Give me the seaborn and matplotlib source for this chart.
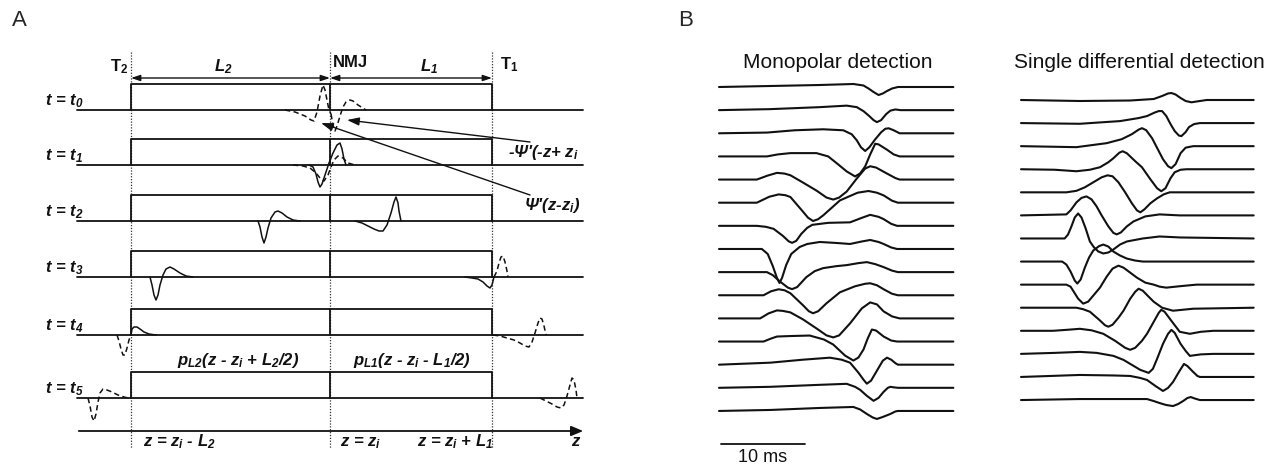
import numpy as np
import matplotlib
matplotlib.use("Agg")
import matplotlib.pyplot as plt
import seaborn as sns

# ---------------- data: panel A (schematic, z in image units) ----------------
row_names = ["0", "1", "2", "3", "4", "5"]
row_baseline = [110, 165, 221, 277, 335, 398]
pulse_height = 26
z_T2, z_NMJ, z_T1 = 131, 330, 492
z_start, z_end = 77, 583
z_axis_y = 431

# waveforms (z, amplitude above baseline)
t0_psi_z = [285, 295, 305, 311, 314, 317, 320, 323, 325, 327, 329, 331]
t0_psi_a = [0, -2, -6, -10, -11, -2, 14, 25, 20, 10, 0, -4]
t0_mpsi_z = [331, 333, 335, 337, 340, 343, 346, 350, 353, 358, 366]
t0_mpsi_a = [-4, -15, -21, -16, -6, 3, 8, 10, 9, 5, 0]
t1_sol_z = [309, 313, 316, 318, 320, 322, 325, 329, 333, 337, 340, 342, 344, 346]
t1_sol_a = [0, -2, -9, -17, -22, -19, -10, 2, 12, 20, 22, 16, 6, 0]
t1_dash_z = [293, 303, 310, 316, 320, 324, 328, 331, 334, 338, 343, 348, 355]
t1_dash_a = [0, -1, -3, -8, -13, -16, -10, -2, 5, 9, 7, 2, 0]
t2_left_z = [258, 260, 262, 264, 266, 268, 271, 275, 278, 282, 287, 293, 300]
t2_left_a = [0, -6, -16, -22, -16, -7, 3, 9, 10, 8, 4, 1, 0]
t2_right_z = [355, 362, 368, 374, 379, 383, 387, 391, 394, 396, 398, 399, 401]
t2_right_a = [0, -2, -5, -8, -10, -10, -4, 8, 19, 24, 18, 10, 0]
t3_left_z = [150, 152, 154, 156, 158, 160, 163, 166, 170, 174, 180, 186, 193]
t3_left_a = [0, -8, -18, -23, -18, -8, 2, 8, 10, 8, 4, 1, 0]
t3_right_z = [465, 472, 478, 483, 487, 490, 492, 494]
t3_right_a = [0, -1, -2, -5, -9, -11, -8, 0]
t3_out_z = [494, 497, 499, 501, 503, 505, 507, 508]
t3_out_a = [0, 6, 14, 20, 21, 15, 6, 0]
t4_left_z = [131, 132, 134, 137, 140, 144, 149, 156]
t4_left_a = [0, 6, 8, 8, 6, 3, 1, 0]
t4_out_left_z = [117, 119, 121, 123, 125, 127, 129, 131]
t4_out_left_a = [0, -6, -14, -20, -20, -13, -5, 0]
t4_out_right_z = [493, 500, 507, 514, 520, 525, 529, 532, 535, 538, 540, 542, 544, 546]
t4_out_right_a = [0, -1, -3, -5, -8, -11, -12, -7, 2, 12, 17, 16, 9, 0]
t5_out_left_z = [88, 90, 92, 94, 96, 98, 100, 103, 107, 112, 118, 124, 128]
t5_out_left_a = [0, -8, -19, -23, -16, -4, 5, 9, 8, 6, 3, 1, 0]
t5_out_right_z = [540, 546, 552, 557, 561, 564, 567, 570, 572, 574, 576, 577]
t5_out_right_a = [0, -3, -6, -9, -10, -7, 2, 13, 20, 18, 8, 0]

# ---------------- data: panel B (time in ms, amplitude in a.u.) ----------------
M00_t = [0, 6.1, 12, 16.0, 17.2, 17.8, 18.4, 19.0, 19.5, 20.0, 20.6, 21.3, 27.9]
M00_a = [0, 1, 2, 3, 1.5, -1.5, -5, -8, -6.5, -4, -1.5, 0, 0]
M01_t = [0, 6.1, 12, 15.2, 16.4, 17.2, 17.9, 18.4, 18.8, 19.3, 19.9, 20.4, 21.0, 21.6, 27.9]
M01_a = [0, 1, 3, 4.5, 3, -1, -6, -10, -12, -10, -4, -0.5, 0.7, 0, 0]
M02_t = [0, 5.7, 9, 12.4, 14.8, 15.8, 16.4, 16.9, 17.4, 17.9, 18.6, 19.3, 19.8, 20.2, 20.8, 21.5, 27.9]
M02_a = [0, 0.7, 3, 4, 3, -1, -7, -14, -17.7, -14, -6, 1, 4.5, 5, 3, 0, 0]
M03_t = [0, 5.7, 7, 8.5, 11.6, 13, 14.0, 15.2, 16.2, 16.8, 17.4, 18.0, 18.6, 19.0, 20.0, 20.8, 21.5, 27.9]
M03_a = [0, 0, 2, 3.3, 3.3, 0, -6.7, -15, -20, -17, -10, 2, 12.7, 12, 6.7, 2, 0, 0]
M04_t = [0, 4.5, 5.8, 6.9, 7.8, 8.5, 10, 11.6, 12.8, 13.6, 14.3, 15.2, 16.4, 17.4, 18.0, 18.7, 20.0, 21.0, 21.5, 27.9]
M04_a = [0, 0, 4, 6.7, 6, 4.3, -3, -11, -18, -20, -18, -12, 1, 11, 13.3, 12, 6, 1.5, 0, 0]
M05_t = [0, 4.5, 6, 7.1, 7.9, 8.5, 9.9, 10.6, 11.2, 11.8, 12.4, 14.4, 16.5, 17.8, 18.8, 19.6, 20.6, 21.3, 27.9]
M05_a = [0, 0, 6, 8.3, 7.5, 5.7, -8, -15, -18.3, -16.5, -12.7, 2.3, 10, 11.7, 10, 7.3, 2, 0, 0]
M06_t = [0, 4.5, 5.6, 6.5, 7.6, 8.3, 8.7, 9.2, 9.8, 10.5, 11.1, 13.0, 15.6, 17.0, 18.0, 19.0, 19.6, 20.5, 21.2, 27.9]
M06_a = [0, 0, -1, -3, -10, -15.5, -17, -15, -8, -2, 1, 3, 3.5, 8, 11, 9, 6.7, 2, 0, 0]
M07_t = [0, 5.1, 5.8, 6.4, 6.9, 7.2, 7.5, 8.0, 8.6, 9.6, 10.5, 12.0, 14, 15.6, 17, 18.0, 19.0, 19.6, 20.5, 21.2, 27.9]
M07_a = [0, 0, -5, -17, -29, -34, -29, -16, -5, 2, 5, 7, 6, 5, 7.5, 9, 7, 5, 1.5, 0, 0]
M08_t = [0, 5.7, 6.4, 7.2, 8.2, 8.7, 9.3, 10.4, 11.4, 12.4, 14, 15.2, 16.6, 17.6, 18.6, 19.6, 20.6, 21.3, 27.9]
M08_a = [0, 0, -3, -9, -15.5, -17, -15, -5, 1, 4, 6, 7, 9, 10, 8, 5, 1.5, 0, 0]
M09_t = [0, 5.3, 6.2, 7.1, 7.8, 8.5, 10.0, 10.7, 11.2, 11.8, 12.8, 14.4, 16.2, 17.4, 18.0, 18.8, 19.6, 20.6, 21.3, 27.9]
M09_a = [0, 0, 4, 6, 5, 2, -10, -16, -18, -16, -8, 3, 9, 11.5, 12, 10, 6, 1.5, 0, 0]
M10_t = [0, 4.9, 5.9, 6.9, 7.6, 8.5, 10, 11.6, 12.8, 13.6, 14.3, 15.6, 17.0, 18.0, 18.8, 19.6, 20.6, 21.5, 27.9]
M10_a = [0, 0, 5, 8, 7.5, 6, -1, -10, -17, -19, -17, -5, 10, 16, 14, 7, 2, 0, 0]
M11_t = [0, 5.3, 6.2, 6.9, 8.5, 10.8, 12.5, 13.6, 15.0, 16.0, 16.6, 17.2, 17.7, 18.2, 18.7, 19.6, 20.5, 21.2, 27.9]
M11_a = [0, 0, 3, 5, 5.5, 6, 2, -3, -14, -19, -16, -8, 3, 12, 11, 5, 1, 0, 0]
M12_t = [0, 6.1, 10, 13.2, 14.6, 15.6, 16.6, 17.2, 17.6, 18.1, 18.8, 19.5, 20.0, 20.5, 21.0, 21.3, 27.9]
M12_a = [0, 2, 5, 7, 5, 2, -8, -15, -19, -16, -6, 4, 7, 5, 1.5, 0, 0]
M13_t = [0, 6.1, 12, 15.2, 16.2, 16.8, 17.6, 18.4, 19.0, 19.6, 20.1, 20.4, 20.8, 21.3, 27.9]
M13_a = [0, 1, 3, 4, 1, -2, -8, -13, -10, -4, 0, 1, 0.5, 0, 0]
M14_t = [0, 6.1, 12, 16.0, 16.8, 17.6, 18.3, 18.8, 19.5, 20.4, 21.0, 21.3, 27.9]
M14_a = [0, 1, 3, 4, 1.5, -3, -6.5, -8, -6, -3, -0.5, 0, 0]

D00_t = [0, 7, 13, 15.8, 16.8, 17.5, 17.9, 18.4, 19.0, 19.6, 20.3, 20.9, 22.1, 27.7]
D00_a = [0, -1, -0.5, 1, 4, 6.5, 7, 5.5, 2, -1, -2.3, -1.5, 0, 0]
D01_t = [0, 7, 11.8, 14, 15.0, 15.9, 16.4, 16.8, 17.3, 17.8, 18.3, 18.8, 19.1, 19.6, 20.0, 20.6, 21.3, 27.7]
D01_a = [0, -0.7, 2, 5, 7, 10.5, 12, 12, 7, -1, -8, -12.5, -13, -9, -4, -1, 0, 0]
D02_t = [0, 6.6, 10.2, 12.0, 13.2, 14.0, 14.4, 14.9, 15.6, 16.2, 16.9, 17.5, 17.9, 18.4, 19.0, 19.6, 20.5, 27.7]
D02_a = [0, -1, 3, 7, 12, 16.5, 18, 16, 8, -1.7, -13, -20, -22, -18, -7, -1.5, 0, 0]
D03_t = [0, 4, 6.6, 8.2, 9.4, 10.4, 11.0, 11.7, 12.1, 12.6, 13.6, 14.4, 15.4, 16.2, 16.7, 17.2, 17.8, 18.3, 19.0, 19.7, 27.7]
D03_a = [0, -0.5, -2, -0.5, 2, 7, 11, 16.5, 18, 16, 8, 2, -10, -19, -22, -19, -9, -3, -0.5, 0, 0]
D04_t = [0, 5.4, 6.6, 7.6, 8.6, 9.6, 10.3, 10.9, 11.6, 12.4, 13.2, 13.8, 14.2, 14.7, 15.4, 16.2, 17.0, 17.7, 27.7]
D04_a = [0, 0, 1.5, 5, 10, 15, 17, 16, 10, 0, -11, -18, -20, -17, -11, -6, -2, 0, 0]
D05_t = [0, 5.4, 5.9, 6.6, 7.2, 7.8, 8.4, 9.0, 9.6, 10.4, 11.0, 11.4, 11.9, 12.6, 13.4, 14.8, 16.5, 18.9, 27.7]
D05_a = [0, 1, 5, 13, 17.5, 19, 16, 9, 0, -11, -17.5, -19, -17, -11, -6, -1, 1, 0, 0]
D06_t = [0, 5.2, 5.6, 6.0, 6.4, 6.8, 7.2, 7.7, 8.2, 8.7, 9.2, 9.8, 10.4, 11.0, 11.8, 12.6, 14.5, 16.5, 19, 27.7]
D06_a = [0, 0, 4, 12, 21, 25, 21, 10, -3, -9, -13, -15, -14, -11, -6, -3, 0, 2, 1, 0]
D07_t = [0, 4.9, 5.4, 5.9, 6.4, 6.7, 7.1, 7.6, 8.1, 8.6, 9.3, 9.8, 10.4, 11.0, 11.8, 12.6, 13.6, 14.5, 27.7]
D07_a = [0, 0, -3, -10, -19, -22, -18, -6, 4, 11, 15.5, 17, 15, 10, 6, 3, 1, 0, 0]
D08_t = [0, 5.4, 5.9, 6.2, 6.8, 7.4, 8.0, 8.6, 9.4, 10.2, 10.9, 11.6, 12.2, 13.0, 13.8, 14.8, 15.8, 16.5, 17.3, 19, 20.9, 27.7]
D08_a = [0, 0, -2, -6, -14, -19, -17, -11, -3, 8, 16, 19, 17, 12, 7, 2, 0, -2, -3, -1.5, 0, 0]
D09_t = [0, 6.6, 7.4, 8.2, 9.3, 10.0, 10.4, 10.9, 11.6, 12.2, 13.0, 13.6, 14.0, 14.5, 15.2, 15.8, 16.8, 18.1, 19.3, 20.5, 27.7]
D09_a = [0, 0, -1.5, -4, -12, -17.5, -19, -17, -10, -3, 9, 16, 19, 17, 11, 6, 0, -3, -2, -1, 0]
D10_t = [0, 3.8, 5.5, 7.0, 8.4, 9.8, 11.2, 12.4, 13.0, 13.6, 14.4, 15.0, 15.8, 16.4, 16.7, 17.1, 17.9, 18.9, 20.1, 21.4, 22.9, 27.7]
D10_a = [0, 0, 1, 2, 0.5, -3, -10, -17, -19, -17, -10, -3, 9, 18, 21, 19, 10, -1, -3, -1, 0, 0]
D11_t = [0, 4, 7.0, 9, 11.0, 12.2, 13.0, 14.2, 15.2, 15.7, 16.2, 16.9, 17.5, 17.9, 18.3, 19.0, 19.6, 20.1, 21.4, 22.9, 27.7]
D11_a = [0, 1, 2, 1, -2, -6, -10, -16, -19, -15, -5, 10, 20, 24, 21, 10, 3, -2, -0.5, 0, 0]
D12_t = [0, 7, 11, 13.0, 14.2, 15.0, 16.0, 16.9, 17.5, 18.1, 18.8, 19.4, 19.8, 20.5, 21.0, 21.3, 27.7]
D12_a = [0, 2, 1.5, 1, -1, -3, -9, -14, -11, -5, 5, 13, 11, 5, 1, 0, 0]
D13_t = [0, 7, 15, 15.8, 16.5, 17.3, 18.1, 18.7, 19.3, 19.8, 20.2, 20.7, 21.3, 27.7]
D13_a = [0, 1, 1, -1, -3, -5, -6, -4, -1, 2, 3, 1.5, 0, 0]

scale_bar_ms = 10

# ---------------- style / layout ----------------
sns.set_theme(style="white")
plt.rcParams["font.family"] = ["Liberation Sans", "DejaVu Sans"]
plt.rcParams["mathtext.fontset"] = "custom"
plt.rcParams["mathtext.rm"] = "Liberation Sans:italic:bold"
plt.rcParams["mathtext.it"] = "Liberation Sans:italic:bold"
plt.rcParams["mathtext.bf"] = "Liberation Sans:bold"

W, H = 1279, 470
fig = plt.figure(figsize=(W / 100, H / 100), dpi=100)
fig.patch.set_facecolor("white")

INK = "#111111"
LW_A = 1.3
DASH = (0, (3.5, 2.2))


def draw(ax, x, y, **kw):
    sns.lineplot(x=np.asarray(x, float), y=np.asarray(y, float), ax=ax,
                 sort=False, estimator=None, **kw)


# ---------------- panel A ----------------
axA = fig.add_axes([0, 0, 600 / W, 1])
axA.set_xlim(0, 600)
axA.set_ylim(H, 0)
axA.axis("off")

txtA = dict(fontsize=12, fontstyle="italic", fontweight="bold",
            ha="left", va="baseline", color=INK)

for zv in (z_T2, z_NMJ, z_T1):
    axA.plot([zv, zv], [52, 448], color="#333333", lw=0.9, ls=(0, (1, 1.3)))

for k, yb in enumerate(row_baseline):
    draw(axA, [z_start, z_end], [yb, yb], color=INK, lw=LW_A)
    top = yb - pulse_height
    draw(axA, [z_T2, z_T2, z_T1, z_T1], [yb, top, top, yb], color=INK, lw=LW_A)
    draw(axA, [z_NMJ, z_NMJ], [yb, top], color=INK, lw=LW_A)
    axA.text(45, yb - 5, "t = $t_{%s}$" % row_names[k], **txtA)

waves = [
    (0, t0_psi_z, t0_psi_a, DASH), (0, t0_mpsi_z, t0_mpsi_a, DASH),
    (1, t1_dash_z, t1_dash_a, DASH), (1, t1_sol_z, t1_sol_a, "-"),
    (2, t2_left_z, t2_left_a, "-"), (2, t2_right_z, t2_right_a, "-"),
    (3, t3_left_z, t3_left_a, "-"), (3, t3_right_z, t3_right_a, "-"),
    (3, t3_out_z, t3_out_a, DASH),
    (4, t4_left_z, t4_left_a, "-"), (4, t4_out_left_z, t4_out_left_a, DASH),
    (4, t4_out_right_z, t4_out_right_a, DASH),
    (5, t5_out_left_z, t5_out_left_a, DASH), (5, t5_out_right_z, t5_out_right_a, DASH),
]
for row, zz, aa, ls in waves:
    yb = row_baseline[row]
    draw(axA, zz, [yb - a for a in aa], color=INK, lw=1.1, linestyle=ls)

axA.annotate("", xy=(z_end + 3, z_axis_y), xytext=(z_start - 1, z_axis_y),
             arrowprops=dict(arrowstyle="-|>,head_length=0.6,head_width=0.25",
                             color=INK, lw=LW_A))
for a0, a1 in ((z_T2, z_NMJ), (z_NMJ, z_T1)):
    axA.annotate("", xy=(a1, 78), xytext=(a0, 78),
                 arrowprops=dict(arrowstyle="<|-|>,head_length=0.45,head_width=0.15",
                                 color=INK, lw=1.0, shrinkA=0, shrinkB=0))
axA.annotate("", xy=(347, 120), xytext=(530, 142),
             arrowprops=dict(arrowstyle="-|>,head_length=0.6,head_width=0.2",
                             color=INK, lw=1.0, shrinkA=0, shrinkB=0))
axA.annotate("", xy=(321, 123), xytext=(530, 195),
             arrowprops=dict(arrowstyle="-|>,head_length=0.6,head_width=0.2",
                             color=INK, lw=1.0, shrinkA=0, shrinkB=0))

txtB = dict(fontsize=12, fontweight="bold", ha="left", va="baseline", color=INK)
axA.text(110, 71, r"T$_\mathbf{2}$", **txtB)
axA.text(214, 71, "$L_2$", **txtA)
axA.text(333, 67, "NMJ", **txtB)
axA.text(420, 71, "$L_1$", **txtA)
axA.text(500, 69, r"T$_\mathbf{1}$", **txtB)
axA.text(508, 157, "-Ψ'(-z+ $z_i$", **txtA)
axA.text(524, 210, "Ψ'(z-$z_i$)", **txtA)
axA.text(177, 365, "$p_{L2}$(z - $z_i$ + $L_2$/2)", **txtA)
axA.text(353, 365, "$p_{L1}$(z - $z_i$ - $L_1$/2)", **txtA)
axA.text(143, 446, "z = $z_i$ - $L_2$", **txtA)
axA.text(340, 446, "z = $z_i$", **txtA)
axA.text(417, 446, "z = $z_i$ + $L_1$", **txtA)
axA.text(571, 446, "z", **txtA)

# ---------------- panel B ----------------
PX_PER_MS = 8.4
mono_traces = [(M00_t, M00_a), (M01_t, M01_a), (M02_t, M02_a), (M03_t, M03_a),
               (M04_t, M04_a), (M05_t, M05_a), (M06_t, M06_a), (M07_t, M07_a),
               (M08_t, M08_a), (M09_t, M09_a), (M10_t, M10_a), (M11_t, M11_a),
               (M12_t, M12_a), (M13_t, M13_a), (M14_t, M14_a)]
diff_traces = [(D00_t, D00_a), (D01_t, D01_a), (D02_t, D02_a), (D03_t, D03_a),
               (D04_t, D04_a), (D05_t, D05_a), (D06_t, D06_a), (D07_t, D07_a),
               (D08_t, D08_a), (D09_t, D09_a), (D10_t, D10_a), (D11_t, D11_a),
               (D12_t, D12_a), (D13_t, D13_a)]


def panel_axes(px_left, px_right, px_t0):
    ax = fig.add_axes([px_left / W, 0, (px_right - px_left) / W, 1])
    ax.set_xlim((px_left - px_t0) / PX_PER_MS, (px_right - px_t0) / PX_PER_MS)
    ax.set_ylim(-H, 0)
    ax.axis("off")
    return ax


axM = panel_axes(700, 985, 719)
axD = panel_axes(1000, 1279, 1021)

for ax, traces, first, step, title in (
        (axM, mono_traces, 87, 23.14, "Monopolar detection"),
        (axD, diff_traces, 100, 23.08, "Single differential detection")):
    for i, (tt, aa) in enumerate(traces):
        base = -(first + i * step)
        draw(ax, tt, [base + a for a in aa], color=INK, lw=1.5)
    ax.text(14.1, -63, title, fontsize=15, ha="center", va="center", color=INK)

draw(axM, [0.24, 0.24 + scale_bar_ms], [-444, -444], color=INK, lw=1.3)
axM.text(0.24 + scale_bar_ms / 2, -457, "%d ms" % scale_bar_ms, fontsize=13,
         ha="center", va="center", color=INK)

fig.text(12 / W, 1 - 20 / H, "A", fontsize=16, ha="left", va="center")
fig.text(678 / W, 1 - 20 / H, "B", fontsize=16, ha="left", va="center")

fig.savefig("out.png", dpi=100, facecolor="white")
